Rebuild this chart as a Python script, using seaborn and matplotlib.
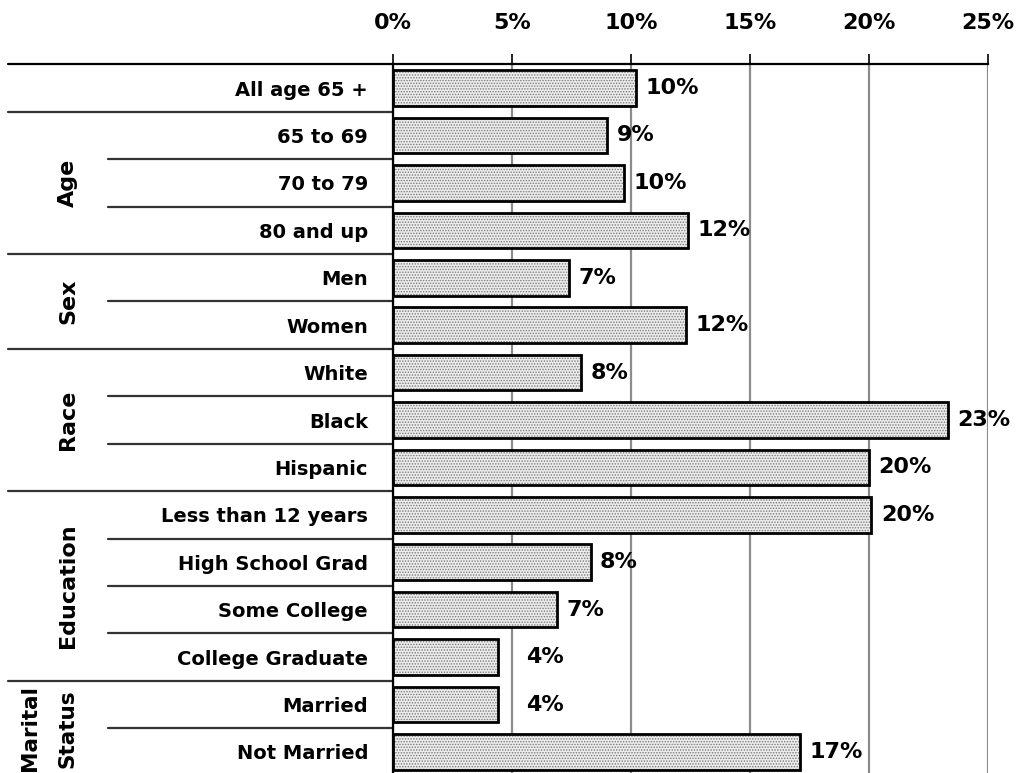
import matplotlib
matplotlib.use("Agg")
import matplotlib.pyplot as plt
import matplotlib.transforms as mtransforms
import seaborn as sns
import pandas as pd

categories = ["All age 65 +", "65 to 69", "70 to 79", "80 and up", "Men", "Women",
              "White", "Black", "Hispanic", "Less than 12 years", "High School Grad",
              "Some College", "College Graduate", "Married", "Not Married"]
values = [10.2, 9.0, 9.7, 12.4, 7.4, 12.3, 7.9, 23.3, 20.0, 20.1, 8.3, 6.9, 4.4, 4.4, 17.1]
value_labels = ["10%", "9%", "10%", "12%", "7%", "12%", "8%", "23%", "20%", "20%",
                "8%", "7%", "4%", "4%", "17%"]
groups = [("", 0, 0), ("Age", 1, 3), ("Sex", 4, 5), ("Race", 6, 8),
          ("Education", 9, 12), ("Marital\nStatus", 13, 14)]
xticks = [0, 5, 10, 15, 20, 25]
xtick_labels = ["0%", "5%", "10%", "15%", "20%", "25%"]

df = pd.DataFrame({"cat": categories, "val": values})

sns.set_style("white")
plt.rcParams["font.family"] = ["DejaVu Sans"]
plt.rcParams["font.weight"] = "bold"
plt.rcParams["text.color"] = "black"
plt.rcParams["xtick.color"] = "black"
plt.rcParams["ytick.color"] = "black"
plt.rcParams["hatch.linewidth"] = 0.7

fig = plt.figure(figsize=(10.21, 7.73), dpi=100)
W, H = 1021, 773
left_px, right_px, top_px, bot_px = 393, 988, 64.3, 775.7
ax = fig.add_axes([left_px / W, (H - bot_px) / H, (right_px - left_px) / W, (bot_px - top_px) / H])

# hatched fill
sns.barplot(data=df, x="val", y="cat", order=categories, orient="h", ax=ax,
            color="#ececec", saturation=1, width=0.75, hatch="......",
            edgecolor="#7a7a7a", linewidth=0, zorder=3)
# outlines
sns.barplot(data=df, x="val", y="cat", order=categories, orient="h", ax=ax,
            fill=False, width=0.75, edgecolor="black", linewidth=2.0, zorder=4)

ax.set_xlim(0, 25)
ax.set_ylim(len(categories) - 0.5, -0.5)
ax.set_xlabel("")
ax.set_ylabel("")

ax.xaxis.tick_top()
ax.set_xticks(xticks)
ax.set_xticklabels(xtick_labels, fontsize=16, fontweight="bold", color="black")
ax.tick_params(axis="x", direction="out", length=7, width=1.2, color="black", pad=15.5)
ax.tick_params(axis="y", length=0, pad=18)
for lab in ax.get_yticklabels():
    lab.set_fontsize(14)
    lab.set_fontweight("bold")
    lab.set_color("black")

ax.grid(axis="x", color="#8c8c8c", linewidth=1.6, zorder=0)
ax.grid(axis="y", visible=False)
ax.set_axisbelow(True)
for s in ["right", "bottom"]:
    ax.spines[s].set_visible(False)
ax.spines["left"].set_color("black")
ax.spines["left"].set_linewidth(1.6)
ax.spines["left"].set_zorder(5)
ax.spines["top"].set_color("black")
ax.spines["top"].set_linewidth(1.6)

# value labels
for i, (v, t) in enumerate(zip(values, value_labels)):
    ax.text(max(v + 0.4, 5.6), i, t, va="center", ha="left",
            fontsize=16, fontweight="bold", color="black", zorder=6)

# separators and group labels on left
trans = mtransforms.blended_transform_factory(ax.transAxes, ax.transData)
x_outer = (8 - left_px) / (right_px - left_px)
x_inner = (108 - left_px) / (right_px - left_px)
x_grp = (68 - left_px) / (right_px - left_px)
x_grp2 = (30 - left_px) / (right_px - left_px)
ax.plot([x_outer, 0], [-0.5, -0.5], transform=trans, color="black", lw=1.6, clip_on=False)
for name, a, b in groups:
    ax.plot([x_outer, 0], [b + 0.5, b + 0.5], transform=trans, color="#333333",
            lw=1.6, clip_on=False)
    for k in range(a, b):
        ax.plot([x_inner, 0], [k + 0.5, k + 0.5], transform=trans, color="#333333",
                lw=1.6, clip_on=False)
    if name == "Marital\nStatus":
        ax.text(x_grp2, (a + b) / 2, "Marital", transform=trans, rotation=90,
                ha="center", va="center", fontsize=15.5, fontweight="bold", color="black")
        ax.text(x_grp, (a + b) / 2, "Status", transform=trans, rotation=90,
                ha="center", va="center", fontsize=15.5, fontweight="bold", color="black")
    elif name:
        ax.text(x_grp, (a + b) / 2, name, transform=trans, rotation=90,
                ha="center", va="center", fontsize=16, fontweight="bold", color="black")

fig.savefig("out.png", dpi=100)
